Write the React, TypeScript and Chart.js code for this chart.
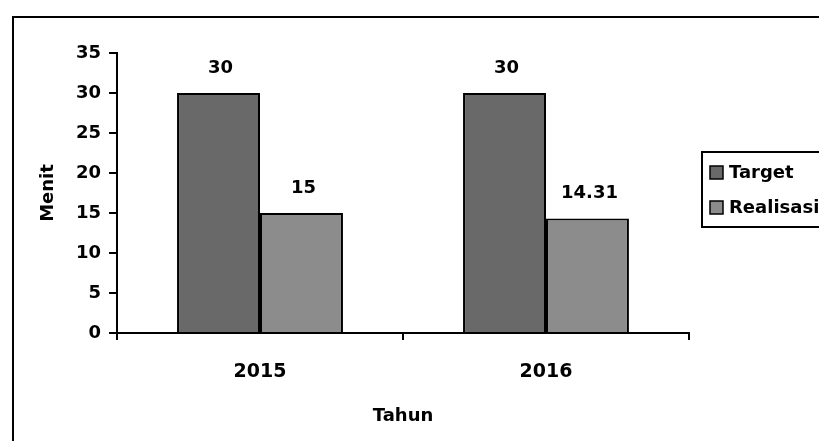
import React, { useEffect, useRef } from "react";
import { Chart, registerables } from "chart.js";

Chart.register(...registerables);

const categories = ["2015", "2016"];
const targetValues = [30, 30];
const realisasiValues = [15, 14.31];
const seriesNames = ["Target", "Realisasi"];
const yTicks = [0, 5, 10, 15, 20, 25, 30, 35];
const xTitle = "Tahun";
const yTitle = "Menit";

const FONT = "'DejaVu Sans', sans-serif";
const colors = ["#696969", "#8c8c8c"];

export default function App() {
  const ref = useRef<HTMLCanvasElement | null>(null);
  useEffect(() => {
    if (!ref.current) return;
    const framePlugin = {
      id: "frame",
      beforeDraw(chart: any) {
        const ctx = chart.ctx;
        ctx.save();
        ctx.fillStyle = "#ffffff";
        ctx.fillRect(0, 0, chart.width, chart.height);
        ctx.strokeStyle = "#000";
        ctx.lineWidth = 2;
        ctx.strokeRect(13, 17, chart.width + 20, chart.height + 20);
        ctx.restore();
      },
      afterDatasetsDraw(chart: any) {
        const ctx = chart.ctx;
        ctx.save();
        ctx.fillStyle = "#000";
        ctx.font = `bold 18px ${FONT}`;
        ctx.textAlign = "center";
        ctx.textBaseline = "middle";
        chart.data.datasets.forEach((ds: any, i: number) => {
          const meta = chart.getDatasetMeta(i);
          meta.data.forEach((bar: any, j: number) => {
            ctx.fillText(String(ds.data[j]), bar.x + 2, bar.y - 25);
          });
        });
        // legend
        const lx = 702, ly = 152;
        ctx.lineWidth = 2;
        ctx.strokeStyle = "#000";
        ctx.strokeRect(lx, ly, 140, 75);
        ctx.textAlign = "left";
        ctx.font = `bold 18px ${FONT}`;
        chart.data.datasets.forEach((ds: any, i: number) => {
          const cy = ly + 21 + i * 35;
          ctx.fillStyle = ds.backgroundColor;
          ctx.fillRect(lx + 8, cy - 7, 13, 13);
          ctx.lineWidth = 1.5;
          ctx.strokeRect(lx + 8, cy - 7, 13, 13);
          ctx.fillStyle = "#000";
          ctx.fillText(ds.label, lx + 27, cy);
        });
        ctx.restore();
      },
    };
    const chart = new Chart(ref.current, {
      type: "bar",
      data: {
        labels: categories,
        datasets: [
          {
            label: seriesNames[0],
            data: targetValues,
            backgroundColor: colors[0],
            borderColor: "#000",
            borderWidth: 2,
            categoryPercentage: 0.58,
            barPercentage: 1,
          },
          {
            label: seriesNames[1],
            data: realisasiValues,
            backgroundColor: colors[1],
            borderColor: "#000",
            borderWidth: 2,
            categoryPercentage: 0.58,
            barPercentage: 1,
          },
        ],
      },
      options: {
        responsive: false,
        animation: false,
        layout: { padding: { left: 0, right: 130, top: 53, bottom: 0 } },
        plugins: { legend: { display: false }, tooltip: { enabled: false } },
        scales: {
          x: {
            afterFit(scale: any) {
              scale.height = 108;
            },
            grid: {
              display: true,
              drawOnChartArea: false,
              drawTicks: true,
              tickLength: 7,
              color: "#000",
              lineWidth: 2,
              offset: true,
            },
            border: { display: true, color: "#000", width: 2 },
            ticks: {
              color: "#000",
              font: { family: FONT, size: 19, weight: "bold" },
              padding: 21,
            },
            title: {
              display: true,
              text: xTitle,
              color: "#000",
              font: { family: FONT, size: 18, weight: "bold" },
              padding: { top: 0, bottom: 14 },
            },
          },
          y: {
            min: 0,
            max: 35,
            afterFit(scale: any) {
              scale.width = 117;
            },
            afterBuildTicks(scale: any) {
              scale.ticks = yTicks.map((v) => ({ value: v }));
            },
            grid: {
              display: true,
              drawOnChartArea: false,
              drawTicks: true,
              tickLength: 8,
              color: "#000",
              lineWidth: 2,
            },
            border: { display: true, color: "#000", width: 2 },
            ticks: {
              color: "#000",
              font: { family: FONT, size: 18, weight: "bold" },
              padding: 8,
            },
            title: {
              display: true,
              text: yTitle,
              color: "#000",
              font: { family: FONT, size: 18, weight: "bold" },
              padding: { top: 38, bottom: 0 },
            },
          },
        },
      },
      plugins: [framePlugin],
    } as any);
    return () => chart.destroy();
  }, []);
  return (
    <div style={{ position: "fixed", left: 0, top: 0, width: 819, height: 441, background: "#fff" }}>
      <canvas ref={ref} width={819} height={441} style={{ display: "block", width: 819, height: 441 }} />
    </div>
  );
}
